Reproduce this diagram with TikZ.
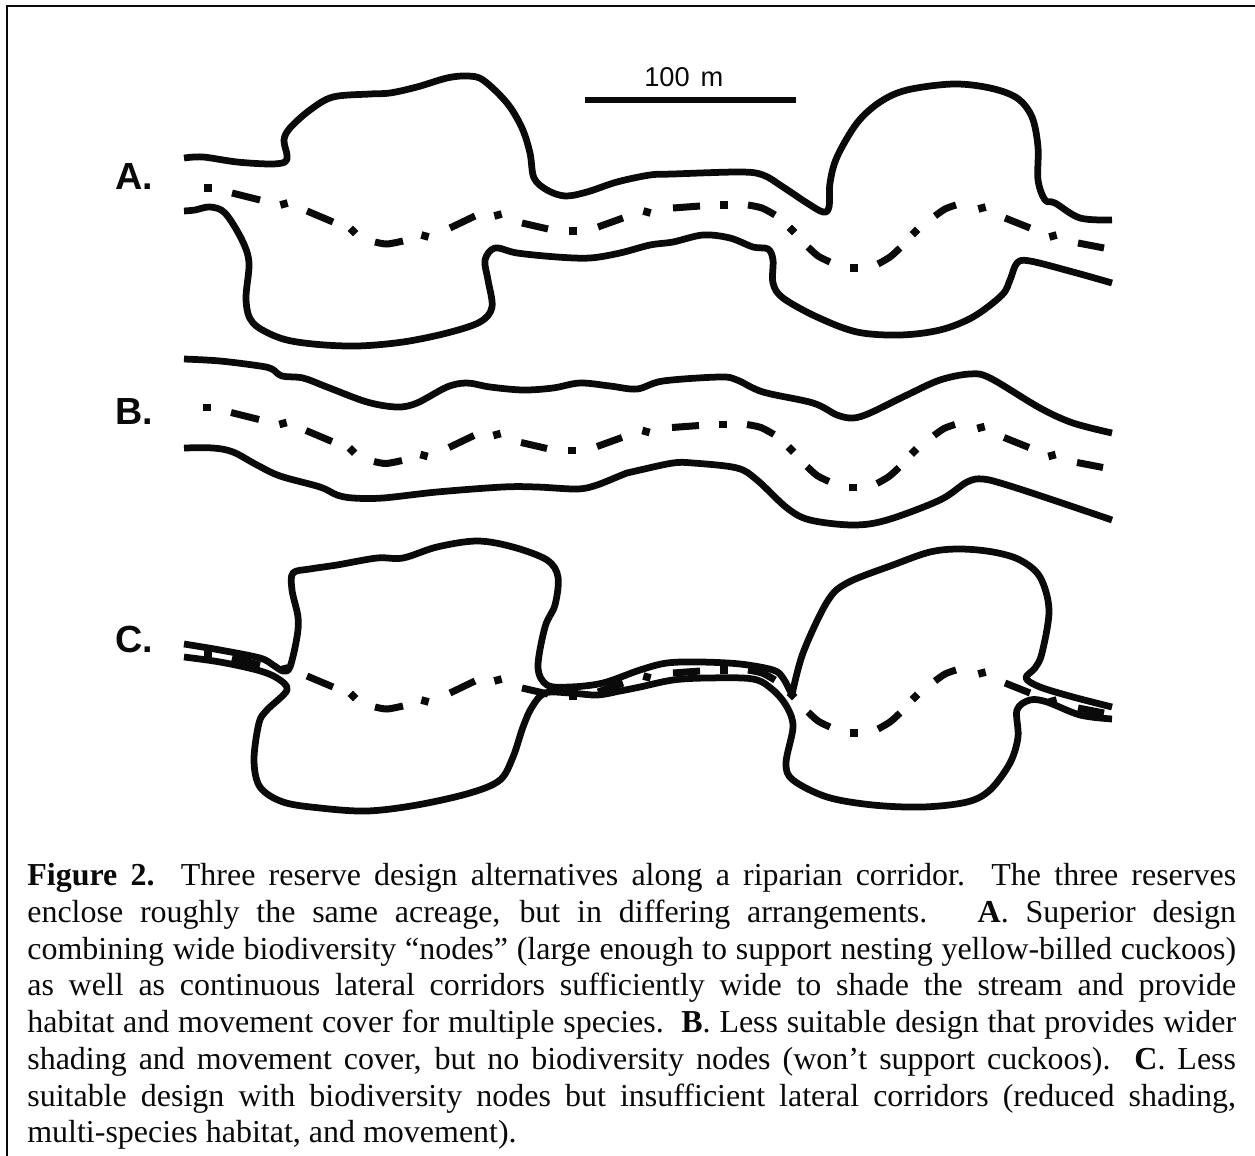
\documentclass[tikz,border=0pt]{standalone}
\usepackage{fontspec}
\setmainfont{Liberation Serif}
\setsansfont{Liberation Sans}
\definecolor{ink}{HTML}{0A0A0A}

% the stream, drawn once per panel
\newcommand{\streamline}{%
  \draw[stream]
    (232,193) -- (260,200)
    (307,211) -- (333,222)
    plot[smooth] coordinates {(375,242) (387,244) (403,241)}
    (450,228) -- (475,216)
    (522,223) -- (548,229)
    (598,227) -- (623,218)
    (673,208) -- (700,206)
    plot[smooth] coordinates {(748,205) (762,208) (775,215)}
    plot[smooth] coordinates {(808,247) (818,256) (830,262)}
    plot[smooth] coordinates {(878,264) (890,257) (900,248)}
    plot[smooth] coordinates {(935,216) (945,209) (956,205)}
    (1005,218) -- (1030,228)
    (1078,243) -- (1104,248);
  \foreach \px/\py/\ang in {208/188/0,284/204/15,353/231/45,425/236/-15,498/215/15,
      573/231/0,647/212/-15,724/205/0,792/230/45,854/268/0,915/232/45,982/208/15,1053/236/15}
    {\fill[ink, rotate around={\ang:(\px,\py)}] (\px-3.8,\py-3.8) rectangle (\px+3.8,\py+3.8);}
}

\begin{document}
\begin{tikzpicture}[x=0.02cm,y=-0.02cm,
  reserve/.style={draw=ink, line width=0.135cm, line cap=butt, line join=round},
  stream/.style={draw=ink, line width=0.14cm, line cap=butt},
  panel/.style={font=\fontsize{21.5}{24}\sffamily\bfseries, text=ink, anchor=base west, inner sep=0pt},
  bound/.style={smooth, tension=0.55}]

\path[use as bounding box, fill=white] (0,0) rectangle (1255,1156);

% frame: open at right and bottom
\draw[draw=ink, line width=0.04cm] (7,1156) -- (7,6) -- (1255,6);

% ------------------------------------------------------------------ scale bar
\node[font=\fontsize{15.5}{18}\sffamily, text=ink, inner sep=0pt, anchor=base west] (scalelabel) at (644,86) {100\hspace{0.12em} m};
\draw[draw=ink, line width=0.11cm] (585,100) -- (796,100);

% ------------------------------------------------------------------ panel A
\node[panel] (labelA) at (115,189) {A.};
\draw[reserve] plot[bound] coordinates {(184,158) (203,157) (237,162) (270,164) (285,162) (287,155)
  (284,140) (290,128) (310,110) (333,97) (370,94) (390,93) (417,87) (447,78) (467,76) (483,80)
  (507,103) (522,128) (530,153) (534,178) (547,190) (565,196) (587,192) (617,182) (650,175)
  (673,174) (740,172) (763,175) (783,187) (807,203) (823,212) (829,207) (830,183) (837,157)
  (857,123) (880,102) (907,90) (953,84) (990,88) (1017,98) (1032,117) (1038,147) (1038,180)
  (1045,200) (1055,203) (1080,218) (1112,220)};
\draw[reserve] plot[bound] coordinates {(184,211) (195,210) (210,207) (225,213) (242,240) (249,263)
  (246,300) (253,323) (280,338) (313,344) (357,346) (403,342) (447,333) (480,322) (492,307)
  (488,280) (485,260) (495,248) (517,253) (557,257) (590,258) (620,253) (650,245)
  (673,242) (703,235) (730,238) (753,247) (768,249) (773,260) (773,283) (783,298) (817,317)
  (857,332) (900,335) (940,330) (973,317) (1002,295) (1010,280) (1017,263) (1030,261)
  (1073,272) (1112,283)};

% ------------------------------------------------------------------ panel B
\node[panel] (labelB) at (115,424) {B.};
\draw[reserve] plot[bound] coordinates {(184,359) (220,361) (260,366) (272,369) (282,376) (303,378)
  (327,387) (367,402) (397,407) (417,403) (447,387) (467,383) (490,387) (523,390) (553,388)
  (580,383) (610,386) (637,389) (663,381) (720,377) (737,380) (763,392) (813,403) (837,415)
  (853,418) (870,413) (907,395) (940,380) (970,374) (990,378) (1040,408) (1073,423) (1112,433)};
\draw[reserve] plot[bound] coordinates {(184,448) (213,448) (233,452) (257,465) (280,476) (320,487)
  (337,495) (353,498) (383,498) (437,492) (503,487) (537,487) (577,489) (597,485) (627,473)
  (640,470) (673,463) (693,463) (737,468) (757,480) (787,508) (810,520) (853,525) (887,520)
  (940,500) (967,482) (983,479) (1007,485) (1053,500) (1112,520)};

% ------------------------------------------------------------------ panel C
\node[panel] (labelC) at (115,652) {C.};
\draw[reserve] plot[bound] coordinates {(184,644) (220,650) (260,658) (273,665) (283,671) (290,667)
  (297,637) (298,617) (292,590) (293,573) (310,569) (337,565) (377,558) (403,558) (437,547)
  (477,541) (513,547) (547,560) (558,577) (555,605) (545,627) (538,667) (547,685) (570,687)
  (603,683) (640,670) (667,663) (700,662) (740,664) (773,670) (783,678) (792,695)};
\draw[reserve] plot[bound] coordinates {(792,695) (803,653) (827,602) (847,583) (893,565) (930,552)
  (960,549) (993,552) (1020,560) (1040,577) (1049,610) (1042,653) (1035,668) (1026,678)
  (1040,687) (1073,697) (1112,707)};
\draw[reserve] plot[bound] coordinates {(184,657) (220,662) (257,670) (277,678) (287,690) (267,710)
  (259,723) (254,760) (260,787) (283,802) (320,808) (367,811) (417,805) (470,793) (500,780)
  (513,757) (523,727) (532,707) (545,693) (570,693) (597,695) (620,691) (640,687) (673,680)
  (707,678) (753,679) (773,690) (787,707) (793,727) (786,763) (793,780) (827,797) (873,805)
  (923,807) (967,802) (990,790) (1010,763) (1018,737) (1017,710) (1030,700) (1047,702)
  (1080,715) (1112,719)};

% stream in all three panels
\foreach \dx/\dy in {0/0,-1/219.5,0/465} {
  \begin{scope}[shift={(\dx,\dy)}]
    \streamline
  \end{scope}
}

% ------------------------------------------------------------------ caption
\node[anchor=north west, inner sep=0pt, text width=24.18cm, align=justify,
      font=\fontsize{18.2}{20.93}\selectfont, text=ink] (caption) at (27,863)
  {\sloppy\textbf{Figure 2.}\ \ Three reserve design alternatives along a riparian corridor.\ \ The three reserves\linebreak
   enclose roughly the same acreage, but in differing arrangements.\ \ \ \textbf{A}. Superior design\linebreak
   combining wide biodiversity “nodes” (large enough to support nesting yellow-billed cuckoos)\linebreak
   as well as continuous lateral corridors sufficiently wide to shade the stream and provide\linebreak
   habitat and movement cover for multiple species.\ \ \textbf{B}. Less suitable design that provides wider\linebreak
   shading and movement cover, but no biodiversity nodes (won’t support cuckoos).\ \ \textbf{C}. Less\linebreak
   suitable design with biodiversity nodes but insufficient lateral corridors (reduced shading,\linebreak
   multi-species habitat, and movement).};
\end{tikzpicture}
\end{document}
